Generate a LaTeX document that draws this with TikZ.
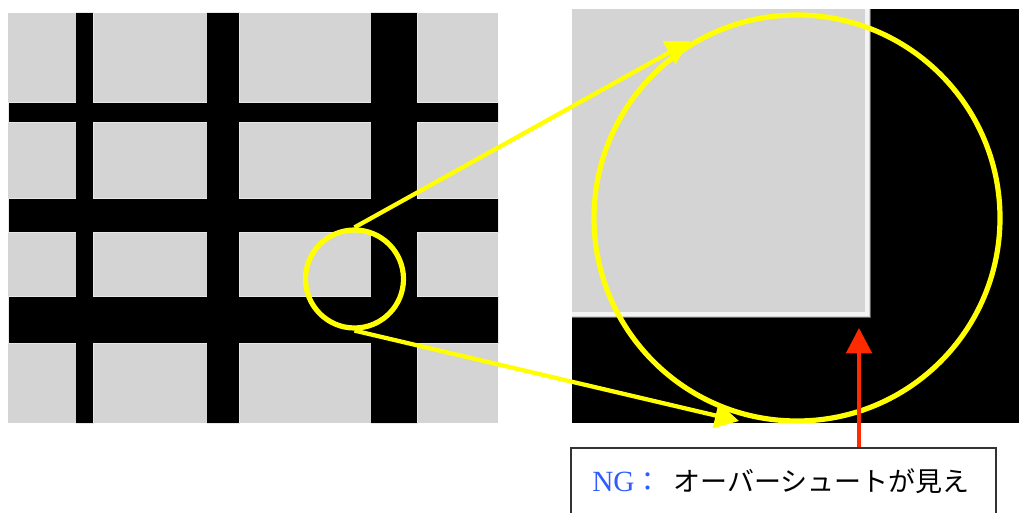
\documentclass[tikz,border=0pt]{standalone}
\usepackage{fontspec}
\setmainfont{Liberation Serif}
\newfontfamily\jpfont{Noto Sans CJK JP}
\usetikzlibrary{arrows.meta}
\definecolor{cellgray}{HTML}{D4D4D4}
\definecolor{hlyellow}{RGB}{255,255,0}
\definecolor{ngred}{HTML}{FF2A00}
\definecolor{ngblue}{HTML}{2F5BFF}
\tikzset{
  bar/.style={fill=black, draw=cellgray!55!white, line width=0.75pt},
  hlcircle/.style={circle, draw=hlyellow, line width=3.9pt, inner sep=0pt},
  hlarrow/.style={draw=hlyellow, line width=3.2pt, -{Triangle[length=18pt,width=19pt]}},
  ngarrow/.style={draw=ngred, line width=3pt, -{Triangle[length=19pt,width=19pt]}},
  lblbox/.style={draw=black!80, line width=1.2pt, fill=white, inner sep=0pt},
}
\begin{document}
\begin{tikzpicture}[x=0.75pt,y=-0.75pt]
\useasboundingbox (0,0) rectangle (1019,513);
\clip (0,0) rectangle (1019,513);
% left image: grid
\fill[cellgray] (8,13) rectangle (498,423);
\foreach \a/\b in {76/93,207/239,371/417}{
  \draw[bar] (\a,13) rectangle (\b,423);
}
\foreach \a/\b in {103/123,199/232,296/343}{
  \draw[bar] (8,\a) rectangle (498,\b);
}
\foreach \a/\b in {76/93,207/239,371/417}{
  \fill[black] (\a,13.5) rectangle (\b,422.5);
}
% right image: magnified corner
\fill[black] (572,9) rectangle (1019,423);
\fill[cellgray] (572,9) rectangle (870,317);
\draw[white!75!cellgray, line width=3pt] (866.5,9) -- (866.5,313.5) -- (572,313.5);
\draw[black!55!cellgray, line width=0.75pt] (870,9) -- (870,317) -- (572,317);
% circles
\node[hlcircle, minimum size=73.5pt] (sc) at (354.5,279) {};
\node[hlcircle, minimum size=304.5pt] (bc) at (797,218) {};
\coordinate (tipA) at (690,41);
\coordinate (tipB) at (739,421);
\draw[hlarrow] (sc.north) -- (tipA);
\draw[hlarrow] (sc.south) -- (tipB);
% label box
\node[lblbox, anchor=north west, minimum width=318.75pt, minimum height=75pt] (lbl) at (570,447) {};
\node[anchor=base west, inner sep=0pt, font=\fontsize{20.25pt}{24pt}\selectfont] (ngtxt) at (592,491)
  {\textcolor{ngblue}{{\fontsize{22pt}{24pt}\selectfont NG}{\jpfont ：}}\hspace{9pt}{\jpfont オーバーシュートが見え}};
\coordinate (ngtip) at (859,328);
\draw[ngarrow] (ngtip |- lbl.north) -- (ngtip);
\end{tikzpicture}
\end{document}
